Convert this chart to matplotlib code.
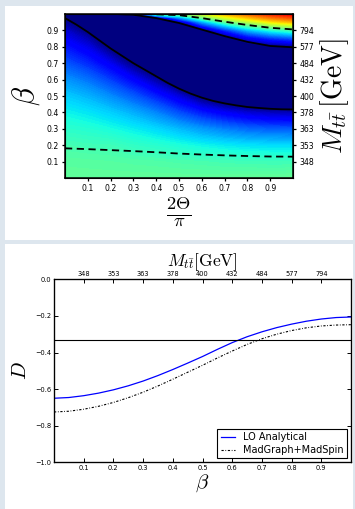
import numpy as np
import matplotlib.pyplot as plt
from matplotlib.patches import Rectangle

plt.rcParams['mathtext.fontset'] = 'cm'

# ---- top panel: heat map over (2Theta/pi, beta), values on jet scale 0..1 (<0 = navy)
theta_frac = [0.0, 0.1, 0.2, 0.3, 0.4, 0.5, 0.6, 0.7, 0.8, 0.9, 1.0]
beta_rows = [0.0, 0.1, 0.2, 0.3, 0.4, 0.5, 0.6, 0.7, 0.8, 0.85, 0.9, 0.95, 0.975, 1.0]
heat = [
    [0.465, 0.465, 0.465, 0.465, 0.465, 0.465, 0.465, 0.465, 0.467, 0.468, 0.470],
    [0.455, 0.453, 0.450, 0.446, 0.443, 0.438, 0.434, 0.429, 0.426, 0.424, 0.424],
    [0.434, 0.428, 0.426, 0.409, 0.397, 0.382, 0.367, 0.354, 0.345, 0.340, 0.339],
    [0.402, 0.392, 0.377, 0.358, 0.336, 0.305, 0.273, 0.245, 0.224, 0.213, 0.208],
    [0.366, 0.350, 0.327, 0.295, 0.253, 0.198, 0.145, 0.104, 0.071, 0.052, 0.046],
    [0.324, 0.299, 0.260, 0.211, 0.151, 0.078, -0.016, -0.085, -0.144, -0.184, -0.210],
    [0.271, 0.236, 0.182, 0.118, 0.032, -0.095, -0.150, -0.200, -0.250, -0.280, -0.300],
    [0.208, 0.163, 0.099, -0.002, -0.128, -0.250, -0.200, -0.220, -0.200, -0.180, -0.180],
    [0.142, 0.091, -0.011, -0.150, -0.280, -0.250, -0.200, -0.150, -0.060, -0.012, 0.010],
    [0.108, 0.046, -0.080, -0.180, -0.260, -0.200, -0.120, -0.040, 0.090, 0.160, 0.200],
    [0.072, -0.012, -0.120, -0.200, -0.200, -0.100, -0.012, 0.160, 0.300, 0.380, 0.430],
    [0.026, -0.060, -0.120, -0.170, -0.100, 0.022, 0.280, 0.450, 0.560, 0.650, 0.710],
    [-0.002, -0.080, -0.100, -0.100, -0.001, 0.250, 0.460, 0.600, 0.690, 0.770, 0.820],
    [-0.050, -0.100, -0.060, 0.100, 0.470, 0.500, 0.610, 0.720, 0.800, 0.870, 0.920],
]

# contour lines
solid_low_x = [0.0, 0.05, 0.1, 0.15, 0.2, 0.25, 0.3, 0.35, 0.4, 0.45, 0.5,
               0.55, 0.6, 0.65, 0.7, 0.75, 0.8, 0.85, 0.9, 0.95, 1.0]
solid_low_beta = [0.975, 0.935, 0.89, 0.84, 0.79, 0.745, 0.70, 0.66, 0.62, 0.58, 0.545,
                  0.515, 0.49, 0.47, 0.455, 0.443, 0.433, 0.427, 0.422, 0.419, 0.418]
solid_up_x = [0.22, 0.3, 0.4, 0.5, 0.6, 0.7, 0.8, 0.9, 1.0]
solid_up_beta = [1.0, 0.995, 0.975, 0.945, 0.905, 0.865, 0.83, 0.805, 0.797]
dash_low_x = [0.0, 0.1, 0.2, 0.3, 0.4, 0.5, 0.6, 0.7, 0.8, 0.9, 1.0]
dash_low_beta = [0.181, 0.176, 0.170, 0.164, 0.157, 0.149, 0.143, 0.138, 0.134, 0.131, 0.130]
dash_up_x = [0.35, 0.4, 0.5, 0.6, 0.7, 0.8, 0.9, 1.0]
dash_up_beta = [1.0, 0.998, 0.993, 0.975, 0.953, 0.933, 0.916, 0.906]

beta_ticks = [0.1, 0.2, 0.3, 0.4, 0.5, 0.6, 0.7, 0.8, 0.9]
mass_labels = ['348', '353', '363', '378', '400', '432', '484', '577', '794']

# ---- bottom panel: D versus beta
beta_curve = [0.0, 0.05, 0.1, 0.15, 0.2, 0.25, 0.3, 0.35, 0.4, 0.45, 0.5,
              0.55, 0.6, 0.65, 0.7, 0.75, 0.8, 0.85, 0.9, 0.95, 1.0]
d_lo = [-0.650, -0.646, -0.636, -0.622, -0.604, -0.582, -0.556, -0.526, -0.493, -0.458, -0.422,
        -0.383, -0.346, -0.314, -0.287, -0.264, -0.245, -0.229, -0.217, -0.209, -0.206]
d_mg = [-0.725, -0.721, -0.710, -0.694, -0.673, -0.647, -0.617, -0.583, -0.546, -0.508, -0.470,
        -0.430, -0.392, -0.356, -0.325, -0.300, -0.280, -0.265, -0.255, -0.250, -0.248]
d_limit = -1.0 / 3.0

W, H = 355, 509
fig = plt.figure(figsize=(W / 100, H / 100), dpi=100, facecolor='#dde6ee')


def white_box(x0, y0, x1, y1):
    return Rectangle((x0 / W, 1 - y1 / H), (x1 - x0) / W, (y1 - y0) / H,
                     transform=fig.transFigure, facecolor='white', edgecolor='none', zorder=-10)


fig.patches.extend([white_box(5, 6, 353, 240), white_box(5, 244, 353, 509)])

# top
ax1 = fig.add_axes([65 / W, 1 - 178 / H, 228 / W, 164 / H])
ax1.contourf(theta_frac, beta_rows, heat, levels=np.linspace(0, 1, 121), cmap='jet',
             extend='min', antialiased=False)
ax1.plot(solid_low_x, solid_low_beta, color='k', lw=1.3)
ax1.plot(solid_up_x, solid_up_beta, color='k', lw=1.3)
ax1.plot(dash_low_x, dash_low_beta, color='k', lw=1.3, ls=(0, (4, 2.5)))
ax1.plot(dash_up_x, dash_up_beta, color='k', lw=1.3, ls=(0, (4, 2.5)))
ax1.set_xlim(0, 1)
ax1.set_ylim(0, 1)
ax1.set_xticks(beta_ticks)
ax1.set_yticks(beta_ticks)
ax1.tick_params(labelsize=5.6, length=2.5, width=0.9, pad=2)
for s in ax1.spines.values():
    s.set_linewidth(1.1)
ax1.set_ylabel(r'$\beta$', fontsize=22, labelpad=3)
ax1.set_xlabel(r'$\frac{2\Theta}{\pi}$', fontsize=19, labelpad=1)

ax1r = ax1.twinx()
ax1r.set_ylim(0, 1)
ax1r.set_yticks(beta_ticks)
ax1r.set_yticklabels(mass_labels)
ax1r.tick_params(labelsize=5.6, length=2.5, width=0.9, pad=2)
ax1r.set_ylabel(r'$M_{t\bar{t}}\,[\mathrm{GeV}]$', fontsize=20, labelpad=3)

# bottom
ax2 = fig.add_axes([54 / W, 1 - 462.3 / H, 297 / W, 183 / H])
ax2.plot(beta_curve, d_lo, color='b', lw=0.9, label='LO Analytical')
ax2.plot(beta_curve, d_mg, color='k', lw=0.8, ls=(0, (2, 1.5, 0.7, 1.5)), label='MadGraph+MadSpin')
ax2.axhline(d_limit, color='k', lw=0.8)
ax2.set_xlim(0, 1)
ax2.set_ylim(-1.0, 0.0)
ax2.set_xticks(beta_ticks)
ax2.set_yticks([0.0, -0.2, -0.4, -0.6, -0.8, -1.0])
ax2.tick_params(direction='in', top=True, right=True, labelsize=4.8, length=3, width=0.7, pad=2)
for s in ax2.spines.values():
    s.set_linewidth(0.9)
ax2.set_ylabel(r'$D$', fontsize=15, labelpad=4)
ax2.set_xlabel(r'$\beta$', fontsize=15, labelpad=1)
leg = ax2.legend(loc='lower right', fontsize=7, handlelength=1.5, fancybox=False,
                 edgecolor='k', framealpha=1, borderaxespad=0.4, borderpad=0.35,
                 labelspacing=0.3, handletextpad=0.8)
leg.get_frame().set_linewidth(0.8)

ax2t = ax2.twiny()
ax2t.set_xlim(0, 1)
ax2t.set_xticks(beta_ticks)
ax2t.set_xticklabels(mass_labels)
ax2t.tick_params(direction='in', labelsize=4.8, length=3, width=0.7, pad=2)
ax2t.set_xlabel(r'$M_{t\bar{t}}[\mathrm{GeV}]$', fontsize=12.5, labelpad=3)

fig.savefig('out.png', dpi=100, facecolor=fig.get_facecolor())
